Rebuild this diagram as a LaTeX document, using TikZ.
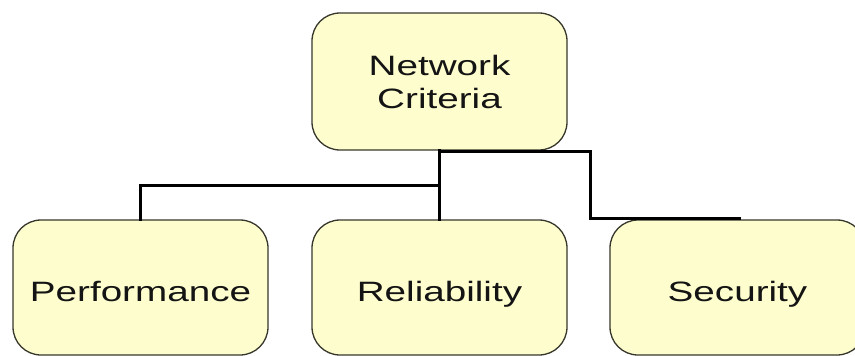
\documentclass[tikz,border=0pt]{standalone}
\usepackage{fontspec}
\usepackage{graphicx}
\setmainfont{Liberation Sans}
\usetikzlibrary{calc}

\definecolor{boxfill}{RGB}{254,253,206}
\definecolor{boxline}{RGB}{55,55,44}
\definecolor{txt}{RGB}{20,20,20}

% text in the boxes is set wide
\newcommand\widetxt[1]{\scalebox{1.38}[1]{#1}}

\begin{document}
\begin{tikzpicture}[x=1pt,y=-1pt,
  crit/.style={draw=boxline, line width=1.3pt, fill=boxfill, rounded corners=28pt,
    minimum width=255pt, minimum height=135pt, inner sep=0pt, align=center,
    text=txt, font=\fontsize{28}{33}\selectfont},
  leaf/.style={crit, text height=30pt, text depth=3pt},
  conn/.style={draw=black, line width=3pt, line join=miter, line cap=rect}]
\useasboundingbox (0,0) rectangle (855,356);

% parent box
\node[crit, minimum height=137pt] (nc) at (439.5,81.5) {\widetxt{Network}\\[0pt]\widetxt{Criteria}};

% child boxes
\node[leaf] (perf) at (140.5,287.5) {\widetxt{Performance}};
\node[leaf] (rel)  at (439.5,287.5) {\widetxt{Reliability}};
\node[leaf] (sec)  at (737.5,287.5) {\widetxt{Security}};

% connectors
\draw[conn] (nc.south) -- (rel.north);
\coordinate (j) at ($(nc.south)!0.5!(rel.north)$);
\draw[conn] (j) -| (perf.north);
\coordinate (e) at ([xshift=2pt,yshift=1pt]sec.north);
\draw[conn] ([yshift=-1pt]nc.south) -- ([xshift=151pt,yshift=-1pt]nc.south) |- (e);
\end{tikzpicture}
\end{document}
